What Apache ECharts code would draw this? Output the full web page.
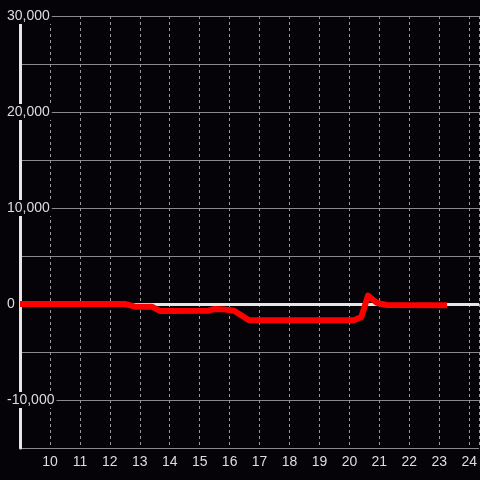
<!DOCTYPE html>
<html>
<head>
    <meta charset="utf-8">
    <style>
        html, body { width: 100%; height: 100%; margin: 0; background: #050307; }
        #chart-panel { width: 480px; height: 480px; }
    </style>
    <script src="https://cdn.jsdelivr.net/npm/echarts@6/dist/echarts.min.js"></script>
</head>
<body>
<div id="chart-panel"></div>
<script type="text/javascript">
  // hours of the day and the measured value
  var hours  = [9, 12.5, 12.85, 13.4, 13.67, 15.3, 15.5, 15.8, 16.15, 16.65, 20.15, 20.4, 20.62, 20.9, 21.05, 21.25, 23.26]
  var values = [0, 0, -280, -280, -720, -700, -520, -560, -700, -1700, -1700, -1350, 880, 150, 20, -100, -120]

  var yMin = -15000, yMax = 30000, yStep = 5000
  var xMin = 9, xMax = 24.33

  var myChart = echarts.init(document.getElementById('chart-panel'))

  var option = {
    backgroundColor: '#050307',
    animation: false,
    grid: { left: 20, right: 0, top: 16, bottom: 32 },
    xAxis: {
      type: 'value',
      min: xMin,
      max: xMax,
      interval: 1,
      axisLine: { show: false },
      axisTick: { show: false },
      axisLabel: {
        color: '#dddddd',
        fontFamily: 'Liberation Sans',
        fontSize: 14,
        margin: 7,
        showMinLabel: false,
        showMaxLabel: false
      },
      splitLine: { show: true, lineStyle: { color: '#999999', type: [3, 3], width: 1 } }
    },
    yAxis: {
      type: 'value',
      min: yMin,
      max: yMax,
      interval: yStep,
      axisLine: { show: true, lineStyle: { color: '#e6e6e6', width: 3 } },
      axisTick: { show: false },
      axisLabel: {
        align: 'left',
        margin: 14,
        formatter: function (v) {
          if (v % 10000 !== 0) return ''
          return '{b|' + v.toLocaleString('en-US') + '}'
        },
        rich: {
          b: {
            color: '#dddddd',
            fontFamily: 'Liberation Sans',
            fontSize: 14,
            backgroundColor: '#050307',
            padding: [1, 2, 1, 1]
          }
        }
      },
      splitLine: { show: true, lineStyle: { color: '#8a8a8a', width: 1 } }
    },
    series: [
      {
        type: 'line',
        data: hours.map(function (h, i) { return [h, values[i]] }),
        showSymbol: false,
        symbol: 'none',
        z: 3,
        lineStyle: { color: '#ff0000', width: 6, join: 'round', cap: 'butt' },
        markLine: {
          silent: true,
          z: 1,
          symbol: 'none',
          label: { show: false },
          lineStyle: { color: '#e6e6e6', width: 3, type: 'solid' },
          data: [{ yAxis: 0 }]
        }
      }
    ]
  }

  myChart.setOption(option)
</script>
</body>
</html>
